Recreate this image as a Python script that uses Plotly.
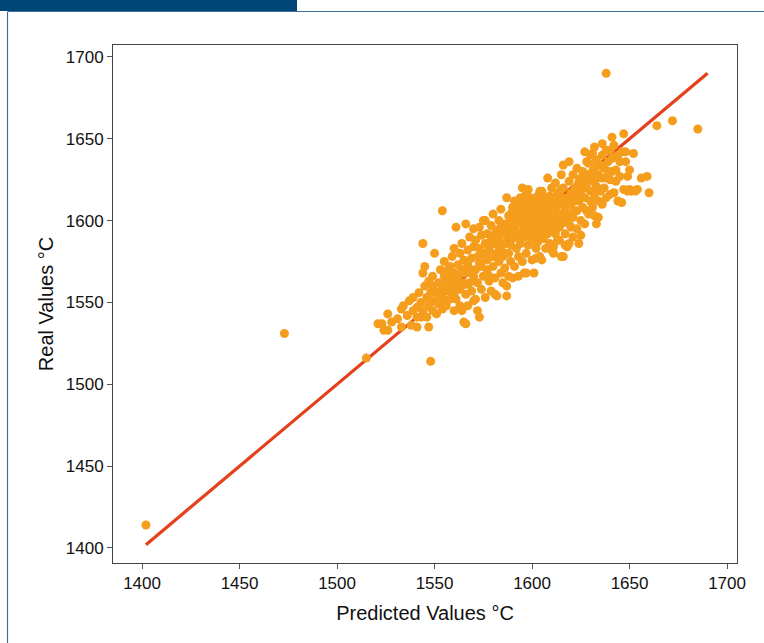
import plotly.graph_objects as go

# Regression reference line (predicted == real)
line_x = [1402, 1690]
line_y = [1402, 1690]

# Scatter points: (predicted, real)
points = [
    (1402, 1414), (1473, 1531), (1515, 1516), (1548, 1514),
    (1521, 1537), (1524, 1533), (1526, 1543), (1528, 1538), (1523, 1537), (1526, 1533),
    (1531, 1540), (1533, 1546), (1534, 1548), (1536, 1542), (1537, 1551), (1538, 1536),
    (1539, 1545), (1539, 1553), (1533, 1535), (1541, 1535),
    (1541, 1547), (1542, 1556), (1543, 1541), (1543, 1550), (1544, 1586), (1544, 1568),
    (1545, 1560), (1545, 1572), (1544, 1545),
    (1546, 1541), (1546, 1553), (1547, 1535), (1547, 1548), (1547, 1563), (1548, 1556),
    (1549, 1545), (1549, 1560), (1550, 1580), (1550, 1551), (1549, 1566),
    (1551, 1543), (1551, 1556), (1552, 1562), (1552, 1549), (1553, 1570), (1553, 1555),
    (1554, 1546), (1554, 1606), (1554, 1559), (1555, 1566), (1555, 1552), (1555, 1575),
    (1556, 1548), (1556, 1562), (1557, 1557), (1557, 1570), (1558, 1572), (1558, 1552),
    (1558, 1565), (1559, 1560), (1559, 1578), (1560, 1555), (1560, 1545), (1560, 1568),
    (1560, 1583),
    (1561, 1596), (1561, 1562), (1561, 1552), (1562, 1573), (1562, 1566), (1563, 1558),
    (1563, 1580), (1563, 1548), (1564, 1545), (1564, 1570), (1564, 1586), (1565, 1538),
    (1565, 1562), (1565, 1576), (1566, 1537),
    (1566, 1598), (1566, 1568), (1566, 1555), (1567, 1582), (1567, 1573), (1567, 1548),
    (1568, 1562), (1568, 1590), (1569, 1577), (1569, 1557), (1570, 1566), (1570, 1584),
    (1570, 1551), (1570, 1595),
    (1571, 1552), (1571, 1570), (1571, 1588), (1572, 1545), (1572, 1562), (1572, 1578),
    (1573, 1596), (1573, 1541), (1573, 1583), (1574, 1558), (1574, 1572), (1574, 1591),
    (1575, 1566), (1575, 1580), (1575, 1600),
    (1576, 1553), (1576, 1586), (1576, 1600), (1577, 1570), (1577, 1576), (1577, 1592),
    (1578, 1563), (1578, 1566), (1578, 1583), (1579, 1597), (1579, 1557), (1579, 1588),
    (1580, 1572), (1580, 1578), (1580, 1604),
    (1581, 1555), (1581, 1565), (1581, 1586), (1582, 1594), (1582, 1554), (1582, 1580),
    (1583, 1575), (1583, 1600), (1583, 1589), (1584, 1568), (1584, 1583), (1584, 1607),
    (1585, 1593), (1585, 1578), (1585, 1562),
    (1586, 1598), (1586, 1571), (1586, 1586), (1587, 1554), (1587, 1560), (1587, 1614),
    (1587, 1591), (1588, 1580), (1588, 1603), (1588, 1566), (1589, 1595), (1589, 1585),
    (1589, 1575), (1590, 1565), (1590, 1608), (1590, 1600), (1590, 1589),
    (1591, 1572), (1591, 1596), (1591, 1612), (1592, 1583), (1592, 1604), (1592, 1590),
    (1593, 1578), (1593, 1600), (1593, 1566), (1594, 1609), (1594, 1593), (1594, 1586),
    (1595, 1620), (1595, 1598), (1595, 1575), (1595, 1605),
    (1596, 1568), (1596, 1590), (1596, 1611), (1597, 1602), (1597, 1596), (1597, 1580),
    (1597, 1568), (1598, 1619), (1598, 1607), (1598, 1585), (1599, 1593), (1599, 1600),
    (1599, 1614), (1600, 1576), (1600, 1604), (1600, 1588), (1600, 1596),
    (1601, 1568), (1601, 1610), (1601, 1599), (1602, 1583), (1602, 1577), (1602, 1605),
    (1602, 1592), (1603, 1615), (1603, 1597), (1603, 1587), (1604, 1603), (1604, 1578),
    (1604, 1609), (1605, 1594), (1605, 1600), (1605, 1576), (1605, 1618),
    (1606, 1606), (1606, 1589), (1606, 1612), (1607, 1596), (1607, 1583), (1607, 1601),
    (1608, 1626), (1608, 1608), (1608, 1592), (1609, 1615), (1609, 1598), (1609, 1586),
    (1610, 1604), (1610, 1582), (1610, 1610), (1610, 1620),
    (1611, 1580), (1611, 1584), (1611, 1598), (1611, 1613), (1612, 1606), (1612, 1592),
    (1612, 1623), (1613, 1602), (1613, 1588), (1613, 1617), (1614, 1596), (1614, 1610),
    (1614, 1588), (1615, 1578), (1615, 1604), (1615, 1628), (1615, 1614),
    (1616, 1578), (1616, 1634), (1616, 1599), (1616, 1620), (1617, 1585), (1617, 1608),
    (1617, 1592), (1618, 1614), (1618, 1584), (1618, 1603), (1619, 1586), (1619, 1636),
    (1619, 1624), (1620, 1596), (1620, 1610), (1620, 1617),
    (1621, 1602), (1621, 1628), (1621, 1590), (1622, 1614), (1622, 1620), (1623, 1606),
    (1623, 1595), (1623, 1632), (1624, 1586), (1624, 1612), (1624, 1624), (1625, 1591),
    (1625, 1618), (1625, 1600),
    (1626, 1630), (1626, 1608), (1626, 1622), (1627, 1614), (1627, 1598), (1628, 1636),
    (1628, 1620), (1628, 1606), (1629, 1604), (1629, 1626), (1629, 1635), (1630, 1612),
    (1630, 1618), (1630, 1640), (1627, 1642),
    (1631, 1641), (1631, 1624), (1631, 1608), (1632, 1616), (1632, 1603), (1632, 1632),
    (1633, 1598), (1633, 1621), (1633, 1637), (1634, 1602), (1634, 1628), (1634, 1612),
    (1635, 1634), (1635, 1618), (1632, 1645),
    (1636, 1610), (1636, 1626), (1636, 1640), (1637, 1620), (1637, 1632), (1638, 1614),
    (1638, 1690), (1638, 1643), (1638, 1626), (1639, 1636), (1640, 1643), (1640, 1625),
    (1640, 1616), (1636, 1647),
    (1641, 1630), (1641, 1638), (1642, 1617), (1642, 1646), (1643, 1624), (1643, 1631),
    (1644, 1640), (1644, 1612), (1645, 1636), (1645, 1627), (1641, 1651),
    (1646, 1611), (1646, 1642), (1647, 1653), (1647, 1619), (1648, 1636), (1648, 1642),
    (1649, 1627), (1649, 1618), (1650, 1619), (1650, 1631),
    (1651, 1618), (1652, 1641), (1653, 1618), (1654, 1619), (1656, 1626), (1659, 1627),
    (1660, 1617),
    (1664, 1658), (1672, 1661), (1685, 1656),
    # dense core
    (1588, 1596), (1589, 1604), (1590, 1593), (1591, 1603), (1592, 1598), (1593, 1606),
    (1594, 1601), (1594, 1614), (1595, 1590), (1596, 1604), (1596, 1597), (1597, 1608),
    (1597, 1616), (1598, 1600), (1598, 1592), (1599, 1606), (1600, 1610), (1600, 1600),
    (1601, 1604), (1601, 1592), (1602, 1614), (1602, 1599), (1603, 1606), (1603, 1592),
    (1604, 1596), (1604, 1618), (1605, 1610), (1606, 1600), (1606, 1595), (1607, 1614),
    (1607, 1607), (1608, 1602), (1608, 1597), (1609, 1610), (1609, 1604), (1610, 1596),
    (1610, 1614), (1611, 1606), (1612, 1600), (1612, 1611), (1613, 1596), (1614, 1604),
    (1615, 1598), (1616, 1610), (1617, 1602), (1618, 1609), (1619, 1598), (1620, 1604),
    (1621, 1612), (1622, 1606), (1579, 1580), (1581, 1592), (1583, 1584), (1584, 1596),
    (1586, 1580), (1587, 1598), (1573, 1574), (1576, 1578), (1569, 1570), (1566, 1561),
    (1562, 1559), (1558, 1558), (1553, 1552), (1550, 1557), (1547, 1553), (1541, 1541),
    (1628, 1628), (1631, 1630), (1633, 1626), (1636, 1633), (1639, 1630), (1625, 1626),
    (1623, 1616), (1627, 1623), (1619, 1612), (1615, 1619),
]
pred_x = [p[0] for p in points]
real_y = [p[1] for p in points]

x_ticks = [1400, 1450, 1500, 1550, 1600, 1650, 1700]
y_ticks = [1400, 1450, 1500, 1550, 1600, 1650, 1700]

FONT = "Liberation Sans, Arial, Helvetica, sans-serif"

fig = go.Figure()
fig.add_trace(go.Scatter(x=line_x, y=line_y, mode="lines",
                         line=dict(color="#E5401C", width=3.2), hoverinfo="skip"))
fig.add_trace(go.Scatter(x=pred_x, y=real_y, mode="markers",
                         marker=dict(color="#F59D1C", size=9, line=dict(width=0))))

W, H = 764, 643
L, R, T, B = 113, 27, 45, 80
pw, ph = W - L - R, H - T - B


def px(x):
    return (x - L) / pw


def py(y):
    return (H - B - y) / ph


shapes = [
    # dark blue header block
    dict(type="rect", xref="paper", yref="paper", x0=px(-2), x1=px(297), y0=py(11), y1=py(-2),
         fillcolor="#004677", line=dict(width=0), layer="above"),
    # thin horizontal rule
    dict(type="line", xref="paper", yref="paper", x0=px(8), x1=px(766), y0=py(11.5), y1=py(11.5),
         line=dict(color="#3F6E9C", width=1.2)),
    # left vertical rule
    dict(type="line", xref="paper", yref="paper", x0=px(7.5), x1=px(7.5), y0=py(11.5), y1=py(645),
         line=dict(color="#3F6E9C", width=1.2)),
]

fig.update_layout(
    width=W, height=H,
    margin=dict(l=L, r=R, t=T, b=B),
    paper_bgcolor="white", plot_bgcolor="white",
    showlegend=False,
    font=dict(family=FONT, color="#111111"),
    shapes=shapes,
)
fig.update_xaxes(range=[1385.1, 1705.1], tickvals=x_ticks, ticks="outside", ticklen=5,
                 tickcolor="#555555", showgrid=False, zeroline=False,
                 showline=True, linecolor="#444444", linewidth=1, mirror=True,
                 tickfont=dict(size=17, family=FONT),
                 title=dict(text="Predicted Values °C", font=dict(size=20, family=FONT), standoff=13))
fig.update_yaxes(range=[1390.8, 1707.3], tickvals=y_ticks, ticks="outside", ticklen=5,
                 tickcolor="#555555", showgrid=False, zeroline=False,
                 showline=True, linecolor="#444444", linewidth=1, mirror=True,
                 tickfont=dict(size=17, family=FONT),
                 title=dict(text="Real Values °C", font=dict(size=20, family=FONT), standoff=6))

fig.write_html("out.html", config={"displayModeBar": False},
               post_script="document.body.style.margin='0px';")
